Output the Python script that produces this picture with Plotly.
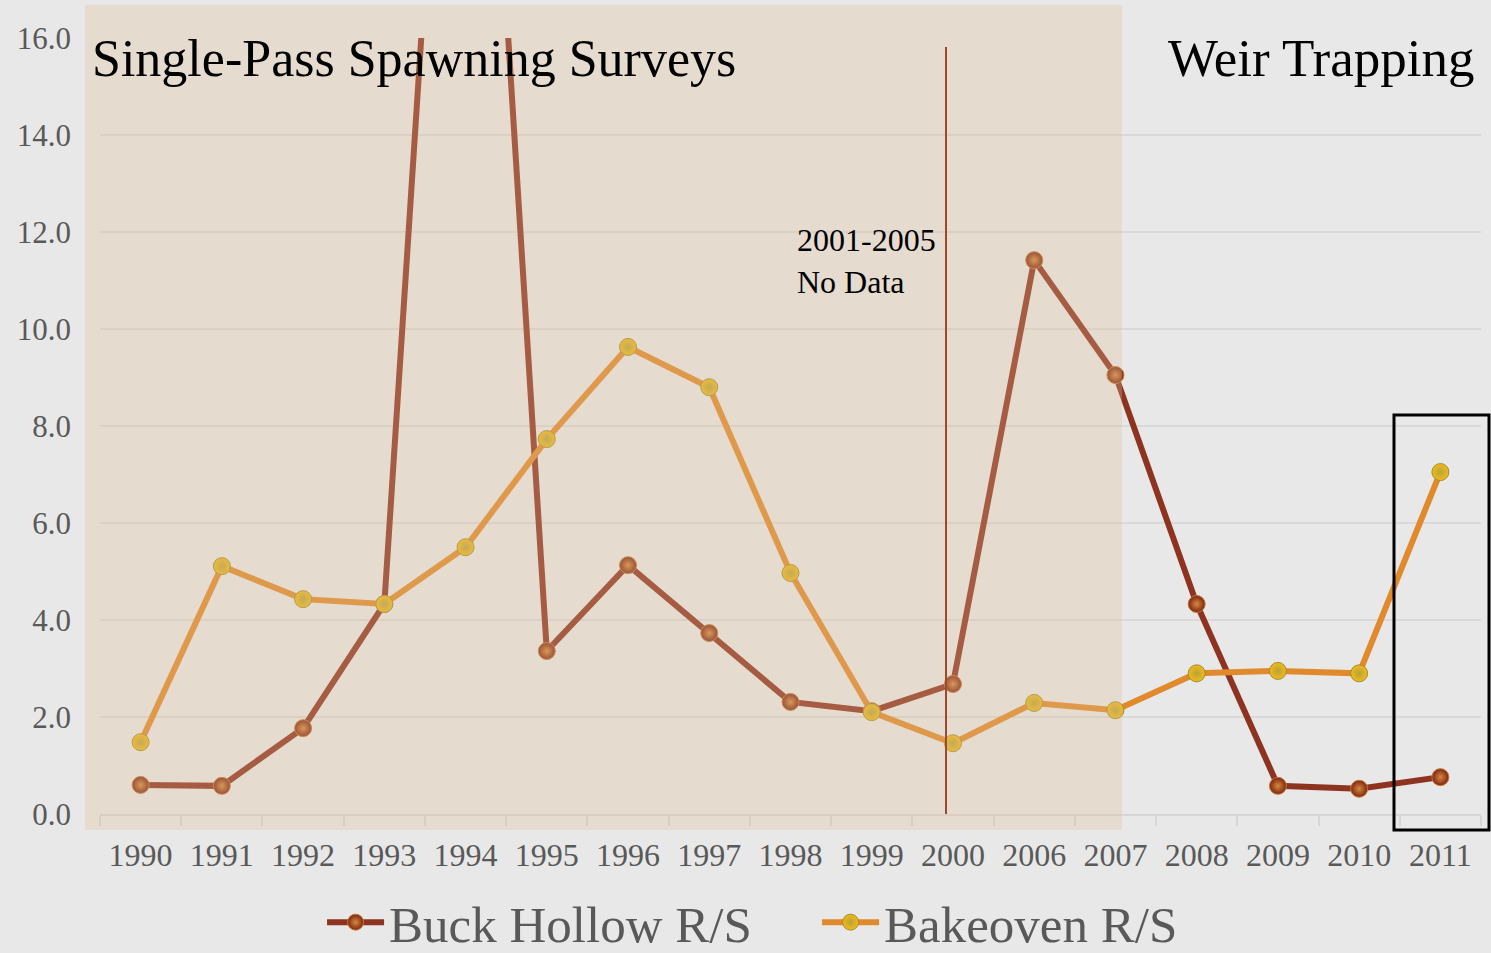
import plotly.graph_objects as go

# Return-per-spawner series, Buck Hollow and Bakeoven creeks
years = ["1990", "1991", "1992", "1993", "1994", "1995", "1996", "1997", "1998",
         "1999", "2000", "2006", "2007", "2008", "2009", "2010", "2011"]
buck_hollow = [0.60, 0.58, 1.77, 4.33, 30.0, 3.36, 5.13, 3.73, 2.31,
               2.12, 2.68, 11.42, 9.05, 4.33, 0.58, 0.52, 0.76]
bakeoven = [1.48, 5.11, 4.43, 4.33, 5.50, 7.73, 9.63, 8.80, 4.97,
            2.10, 1.46, 2.29, 2.14, 2.90, 2.95, 2.90, 7.05]
y_ticks = [0, 2, 4, 6, 8, 10, 12, 14, 16]
y_tick_text = ["0.0", "2.0", "4.0", "6.0", "8.0", "10.0", "12.0", "14.0", "16.0"]

FONT = "Liberation Serif"
BG = "#E8E8E8"

# plot-area geometry in pixels, used to place paper-referenced shapes
W, H = 1491, 953
L, R, T, B = 100, 10, 38, 139
PW, PH = W - L - R, H - T - B


def px_x(p):
    return (p - L) / PW


def px_y(p):
    return (H - B - p) / PH


fig = go.Figure()

fig.add_trace(go.Scatter(
    x=years, y=buck_hollow, name="Buck Hollow R/S", mode="lines+markers",
    line=dict(color="#8E3320", width=6),
    marker=dict(size=17, color="#7A2616",
                gradient=dict(type="radial", color="#D9883A"),
                line=dict(color="#C87830", width=1)),
    cliponaxis=True,
))
fig.add_trace(go.Scatter(
    x=years, y=bakeoven, name="Bakeoven R/S", mode="lines+markers",
    line=dict(color="#E08A2C", width=6),
    marker=dict(size=17, color="#F6B818",
                gradient=dict(type="radial", color="#B4A43C"),
                line=dict(color="#9C9030", width=1)),
    cliponaxis=True,
))

shapes = [
    # shaded spawning-survey period, laid over the lines
    dict(type="rect", xref="paper", yref="paper", layer="above",
         x0=px_x(85), x1=px_x(1122), y0=px_y(830), y1=px_y(5),
         fillcolor="rgba(222,190,150,0.30)", line=dict(width=0)),
    # 2001-2005 gap marker
    dict(type="line", xref="paper", yref="paper", layer="above",
         x0=px_x(946), x1=px_x(946), y0=px_y(814), y1=px_y(47),
         line=dict(color="#A0482D", width=2)),
    # highlight box around 2011
    dict(type="rect", xref="paper", yref="paper", layer="above",
         x0=px_x(1394), x1=px_x(1489), y0=px_y(830), y1=px_y(415),
         line=dict(color="#000000", width=3), fillcolor="rgba(0,0,0,0)"),
]

annotations = [
    dict(text="Single-Pass Spawning Surveys", xref="paper", yref="paper",
         x=px_x(90), y=px_y(58), xanchor="left", yanchor="middle",
         showarrow=False, font=dict(family=FONT, size=52, color="#000000")),
    dict(text="Weir Trapping", xref="paper", yref="paper",
         x=px_x(1476), y=px_y(58), xanchor="right", yanchor="middle",
         showarrow=False, font=dict(family=FONT, size=53, color="#000000")),
    dict(text="2001-2005<br>No Data", xref="paper", yref="paper",
         x=px_x(795), y=px_y(220), xanchor="left", yanchor="top", align="left",
         showarrow=False, font=dict(family=FONT, size=32, color="#000000")),
]

fig.update_layout(
    width=W, height=H,
    margin=dict(l=L, r=R, t=T, b=B),
    paper_bgcolor=BG, plot_bgcolor=BG,
    shapes=shapes, annotations=annotations,
    showlegend=True,
    legend=dict(orientation="h", xref="container", yref="container",
                x=0.548, xanchor="center", y=0.032, yanchor="middle",
                font=dict(family=FONT, size=51, color="#595959"),
                itemwidth=57, entrywidth=423,
                bgcolor="rgba(0,0,0,0)", tracegroupgap=0),
    xaxis=dict(type="category", range=[-0.5, 16.5], tickson="boundaries",
               ticks="outside", ticklen=10, tickcolor="#D6D6D6", tickwidth=2,
               showline=True, linecolor="#D6D6D6", linewidth=2,
               showgrid=False, zeroline=False, ticklabelstandoff=12,
               tickfont=dict(family=FONT, size=32, color="#595959")),
    yaxis=dict(range=[0, 16], tickvals=y_ticks, ticktext=y_tick_text,
               showgrid=True, gridcolor="#D9D9D9", gridwidth=1.5,
               zeroline=False, showline=False, ticks="",
               ticklabelstandoff=28,
               tickfont=dict(family=FONT, size=31, color="#595959")),
)

fig.write_html("out.html")
